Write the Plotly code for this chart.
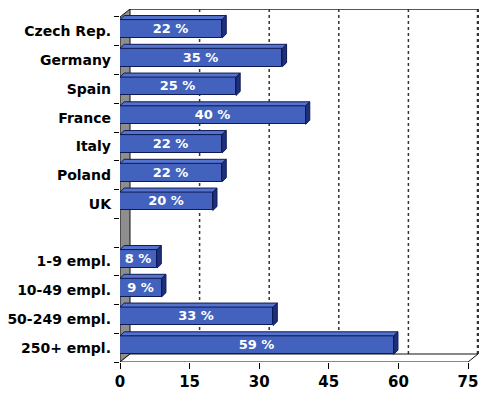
import plotly.graph_objects as go

# ---- data ----
categories = ["Czech Rep.", "Germany", "Spain", "France", "Italy", "Poland", "UK",
              "", "1-9 empl.", "10-49 empl.", "50-249 empl.", "250+ empl."]
values = [22, 35, 25, 40, 22, 22, 20, None, 8, 9, 33, 59]
x_ticks = [0, 15, 30, 45, 60, 75]

# ---- style / geometry constants ----
FRONT = "#4262BE"
TOP = "#5573CC"
SIDE = "#1E2F7E"
EDGE = "#0E1A55"
WALL = "#8E8E8E"
FONT = "DejaVu Sans"

BAR_H = 0.64        # bar thickness (category units)
BAR_SHIFT = 0.09    # bars sit slightly back (upwards)
DDX, DDY = 0.9, 0.14          # bar depth offset (x units, y units)
BDX, BDY = 2.155, 0.278       # back-wall offset
XMAX = 75
Y_TOP, Y_BOT = -0.5, len(categories) - 0.5

pos = list(range(len(categories)))

fig = go.Figure()

# front faces of bars
bx, by, bt = [], [], []
for p, v in zip(pos, values):
    if v is not None:
        bx.append(v); by.append(p); bt.append(f"{v} %")
fig.add_trace(go.Bar(
    x=bx, y=by, orientation="h", base=0,
    width=BAR_H, offset=-BAR_H / 2 - BAR_SHIFT,
    marker=dict(color=FRONT, line=dict(color=EDGE, width=1)),
    text=bt, textposition="inside", insidetextanchor="middle",
    textfont=dict(family=FONT, size=13, color="white", weight="bold"),
    constraintext="none", cliponaxis=False, hoverinfo="skip",
))

# top and side faces (3D effect) derived from the values
tx, ty, sx, sy = [], [], [], []
for p, v in zip(pos, values):
    if v is None:
        continue
    yt = p - BAR_SHIFT - BAR_H / 2
    yb = p - BAR_SHIFT + BAR_H / 2
    tx += [0, v, v + DDX, DDX, 0, None]
    ty += [yt, yt, yt - DDY, yt - DDY, yt, None]
    sx += [v, v, v + DDX, v + DDX, v, None]
    sy += [yt, yb, yb - DDY, yt - DDY, yt, None]
fig.add_trace(go.Scatter(x=tx, y=ty, mode="lines", fill="toself", fillcolor=TOP,
                         line=dict(color=EDGE, width=1), hoverinfo="skip"))
fig.add_trace(go.Scatter(x=sx, y=sy, mode="lines", fill="toself", fillcolor=SIDE,
                         line=dict(color=EDGE, width=1), hoverinfo="skip"))

shapes = []
# back wall
shapes.append(dict(type="path", layer="below", xref="x", yref="y",
                   path=f"M {BDX},{Y_BOT - BDY} L {BDX},{Y_TOP - BDY} L {XMAX + BDX},{Y_TOP - BDY} L {XMAX + BDX},{Y_BOT - BDY} Z",
                   fillcolor="white", line=dict(width=0)))
shapes.append(dict(type="line", layer="below", xref="x", yref="y",
                   x0=BDX, x1=XMAX + BDX, y0=Y_TOP - BDY, y1=Y_TOP - BDY,
                   line=dict(color="#222", width=1.5)))
shapes.append(dict(type="line", layer="below", xref="x", yref="y",
                   x0=XMAX + BDX, x1=XMAX + BDX, y0=Y_TOP - BDY, y1=Y_BOT - BDY,
                   line=dict(color="#333", width=2.5, dash="dot")))
# grid lines on back wall
for t in x_ticks[1:-1]:
    shapes.append(dict(type="line", layer="below", xref="x", yref="y",
                       x0=t + BDX, x1=t + BDX, y0=Y_TOP - BDY, y1=Y_BOT - BDY,
                       line=dict(color="#333", width=1.5, dash="dot")))
# left wall
shapes.append(dict(type="path", layer="below", xref="x", yref="y",
                   path=f"M 0,{Y_BOT} L 0,{Y_TOP} L {BDX},{Y_TOP - BDY} L {BDX},{Y_BOT - BDY} Z",
                   fillcolor=WALL, line=dict(color="#111", width=1)))
# floor
shapes.append(dict(type="path", layer="below", xref="x", yref="y",
                   path=f"M 0,{Y_BOT} L {XMAX},{Y_BOT} L {XMAX + BDX},{Y_BOT - BDY} L {BDX},{Y_BOT - BDY} Z",
                   fillcolor="white", line=dict(color="#111", width=1)))

fig.update_layout(
    width=479, height=394,
    margin=dict(l=120, r=0, t=9, b=32),
    paper_bgcolor="white", plot_bgcolor="white",
    showlegend=False, shapes=shapes, bargap=0,
    font=dict(family=FONT, color="black"),
)
fig.update_xaxes(
    range=[0, 359 / 4.64], tickvals=x_ticks, ticktext=[str(t) for t in x_ticks],
    showgrid=False, zeroline=False, showline=False,
    ticks="outside", ticklen=6, tickcolor="black", tickwidth=1,
    tickfont=dict(family=FONT, size=15, color="black", weight="bold"),
    fixedrange=True,
)
fig.update_yaxes(
    range=[Y_BOT, Y_TOP - BDY], tickvals=pos, ticktext=categories,
    showgrid=False, zeroline=False, showline=False, ticks="",
    ticklabelstandoff=8,
    minor=dict(tickvals=[p - 0.5 for p in pos] + [Y_BOT], ticks="outside",
               ticklen=5, tickcolor="black", showgrid=False),
    tickfont=dict(family=FONT, size=14, color="black", weight="bold"),
    fixedrange=True,
)

fig.write_html("out.html")
